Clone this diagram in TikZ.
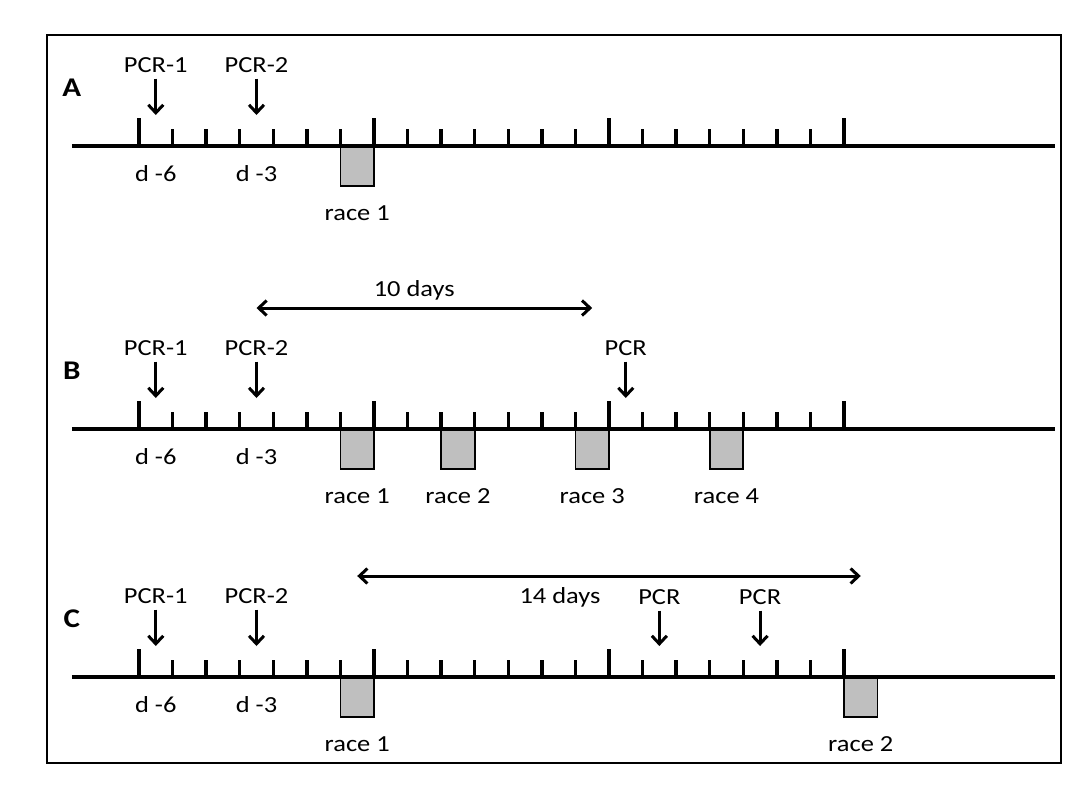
\documentclass[tikz,border=0pt]{standalone}
\usepackage{fontspec}
\setmainfont{Carlito}[FakeStretch=1.15]
\usetikzlibrary{arrows.meta}
\definecolor{boxgray}{gray}{0.75}
\tikzset{
  txt/.style= {inner sep=3bp, font=\fontsize{23bp}{27bp}\selectfont},
  panel/.style= {inner sep=0, font=\fontsize{27bp}{31bp}\selectfont\bfseries},
  axis/.style= {line width=4bp},
  tick/.style= {line width=3.4bp},
  pcr/.style= {line width=3bp, shorten <=3bp, -{Straight Barb[length=8bp, width=15bp]}},
  span/.style= {line width=3bp, {Straight Barb[length=8bp, width=15bp]}-{Straight Barb[length=8bp, width=15bp]}},
  racebox/.style= {draw, line width=1.8bp, fill=boxgray},
}

\begin{document}
\begin{tikzpicture}[x=1bp, y=-1bp]
  \useasboundingbox (0,0) rectangle (1092,788);
  \draw [line width=1.8bp] (47,35) rectangle (1061,763);

  % common part of the three timelines
  \foreach \p/\y in {A/146, B/429, C/677} {
    \begin{scope}[shift={(139,\y)}, x=33.57bp]
      \draw [racebox] (6,1) rectangle (7,40);
      \draw [axis] (-2,0) -- (27.3,0);
      \foreach \d in {0,7,14,21}
        \draw [tick] (\d,0) -- (\d,-28);
      \foreach \d in {1,2,3,4,5,6,8,9,10,11,12,13,15,16,17,18,19,20}
        \draw [tick] (\d,0) -- (\d,-17);
      \node [panel] (lbl\p) at (-2,-58) {\p};
      \node [txt] (pcr1\p) at (0.5,-81) {PCR-1};
      \node [txt] (pcr2\p) at (3.5,-81) {PCR-2};
      \coordinate (tip1\p) at (0.5,-31);
      \coordinate (tip2\p) at (3.5,-31);
      \draw [pcr] (pcr1\p) -- (tip1\p);
      \draw [pcr] (pcr2\p) -- (tip2\p);
      \node [txt] (dsix\p) at (0.5,28) {d -6};
      \node [txt] (dthree\p) at (3.5,28) {d -3};
      \node [txt] (race1\p) at (6.5,67) {race 1};
    \end{scope}
  }

  % B
  \begin{scope}[shift={(139,429)}, x=33.57bp]
    \foreach \d/\n in {9/2, 13/3, 17/4} {
      \draw [racebox] (\d,1) rectangle (\d+1,40);
      \node [txt] (raceB\n) at (\d+0.5,67) {race \n};
    }
    \node [txt] (pcrB) at (14.5,-81) {PCR};
    \coordinate (tipB) at (14.5,-31);
    \draw [pcr] (pcrB) -- (tipB);
    \coordinate (tenL) at (3.5,-121);
    \coordinate (tenR) at (13.5,-121);
    \draw [span] (tenL) -- (tenR);
    \node [txt] (tendays) at (8.2,-139) {10 days};
  \end{scope}

  % C
  \begin{scope}[shift={(139,677)}, x=33.57bp]
    \draw [racebox] (21,1) rectangle (22,40);
    \node [txt] (raceC2) at (21.5,67) {race 2};
    \node [txt] (pcrC1) at (15.5,-80) {PCR};
    \node [txt] (pcrC2) at (18.5,-80) {PCR};
    \coordinate (tipC1) at (15.5,-31);
    \coordinate (tipC2) at (18.5,-31);
    \draw [pcr] (pcrC1) -- (tipC1);
    \draw [pcr] (pcrC2) -- (tipC2);
    \coordinate (fourL) at (6.5,-101);
    \coordinate (fourR) at (21.5,-101);
    \draw [span] (fourL) -- (fourR);
    \node [txt] (fourdays) at (12.54,-80) {14 days};
  \end{scope}
\end{tikzpicture}
\end{document}
